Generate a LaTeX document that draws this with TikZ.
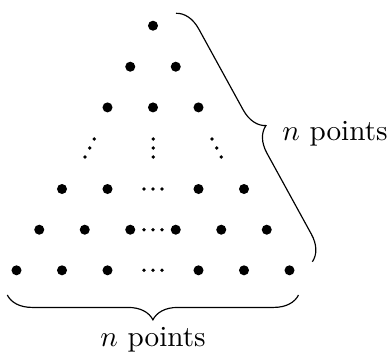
\documentclass[tikz,border=0pt]{standalone}
\usetikzlibrary{decorations.pathreplacing}
\tikzset{
  bigdot/.style={circle,fill=black,inner sep=0pt,minimum size=3.43pt},
  smalldot/.style={circle,fill=black,inner sep=0pt,minimum size=1.25pt},
  bracestyle/.style={decorate,decoration={brace,amplitude=8.5pt},line width=0.4pt},
  lab/.style={inner sep=0pt}
}
\begin{document}
\begin{tikzpicture}[x=0.3425pt,y=-0.3425pt]
\useasboundingbox (0,0) rectangle (387,351);
% row 1
\node[bigdot] (a1) at (153,25.7) {};
% row 2
\node[bigdot] (b1) at (130.25,66.7) {};
\node[bigdot] (b2) at (175.75,66.7) {};
% row 3
\node[bigdot] (c1) at (107.5,107.4) {};
\node[bigdot] (c2) at (153,107.4) {};
\node[bigdot] (c3) at (198.5,107.4) {};
% row 4 : dots
\node[smalldot] (dl1) at (94.3,139) {};
\node[smalldot] (dl2) at (89.7,148) {};
\node[smalldot] (dl3) at (85,157) {};
\node[smalldot] (dm1) at (153.3,139) {};
\node[smalldot] (dm2) at (153.3,148) {};
\node[smalldot] (dm3) at (153.3,157) {};
\node[smalldot] (dr1) at (212,139) {};
\node[smalldot] (dr2) at (216.7,148) {};
\node[smalldot] (dr3) at (221.3,157) {};
% row 5
\node[bigdot] (e1) at (62,189) {};
\node[bigdot] (e2) at (107.5,189) {};
\node[smalldot] (ec1) at (144,189) {};
\node[smalldot] (ec2) at (153,189) {};
\node[smalldot] (ec3) at (162,189) {};
\node[bigdot] (e3) at (198.5,189) {};
\node[bigdot] (e4) at (244,189) {};
% row 6
\node[bigdot] (f1) at (39.25,229.7) {};
\node[bigdot] (f2) at (84.75,229.7) {};
\node[bigdot] (f3) at (130.25,229.7) {};
\node[smalldot] (fc1) at (144,229.7) {};
\node[smalldot] (fc2) at (153,229.7) {};
\node[smalldot] (fc3) at (162,229.7) {};
\node[bigdot] (f4) at (175.75,229.7) {};
\node[bigdot] (f5) at (221.25,229.7) {};
\node[bigdot] (f6) at (266.75,229.7) {};
% row 7
\node[bigdot] (g1) at (16.5,270.3) {};
\node[bigdot] (g2) at (62,270.3) {};
\node[bigdot] (g3) at (107.5,270.3) {};
\node[smalldot] (gc1) at (144,270.3) {};
\node[smalldot] (gc2) at (153,270.3) {};
\node[smalldot] (gc3) at (162,270.3) {};
\node[bigdot] (g4) at (198.5,270.3) {};
\node[bigdot] (g5) at (244,270.3) {};
\node[bigdot] (g6) at (289.5,270.3) {};
% braces
\coordinate (rtop) at (176,13.3);
\coordinate (rbot) at (312.5,262);
\draw[bracestyle] (rtop) -- (rbot);
\coordinate (bright) at (298.5,295);
\coordinate (bleft) at (7.3,295);
\draw[bracestyle] (bright) -- (bleft);
% labels
\node[lab,anchor=base west] (rlab) at (281.7,140) {$n$ points};
\node[lab,anchor=base] (blab) at (153,346) {$n$ points};
\end{tikzpicture}
\end{document}
